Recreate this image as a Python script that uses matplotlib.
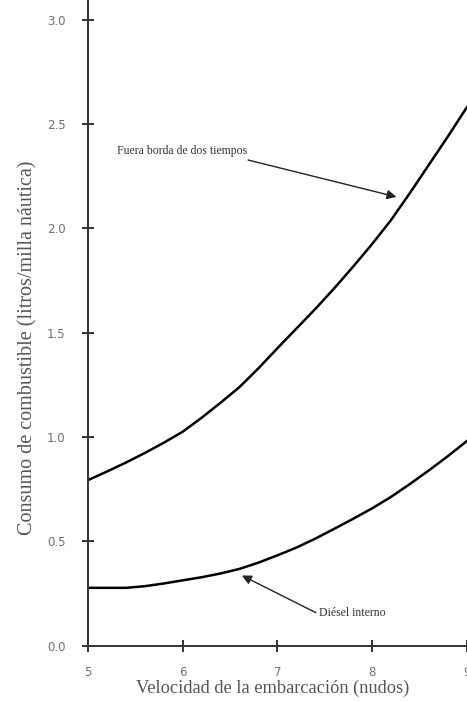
import numpy as np
import matplotlib.pyplot as plt

# boat speed (knots) and fuel use (litres per nautical mile)
speed = [5.0, 5.2, 5.4, 5.6, 5.8, 6.0, 6.2, 6.4, 6.6, 6.8, 7.0,
         7.2, 7.4, 7.6, 7.8, 8.0, 8.2, 8.4, 8.6, 8.8, 9.0]
outboard = [0.794, 0.835, 0.878, 0.924, 0.973, 1.026, 1.093, 1.165, 1.24, 1.33, 1.426,
            1.52, 1.614, 1.713, 1.817, 1.925, 2.04, 2.17, 2.305, 2.44, 2.58]
diesel = [0.277, 0.277, 0.277, 0.285, 0.298, 0.313, 0.328, 0.346, 0.368, 0.398, 0.433,
          0.47, 0.513, 0.56, 0.608, 0.658, 0.713, 0.775, 0.84, 0.908, 0.98]

xticks = [5, 6, 7, 8, 9]
yticks = [0.0, 0.5, 1.0, 1.5, 2.0, 2.5, 3.0]

serif = "Liberation Serif"
grey = "#555555"

fig = plt.figure(figsize=(4.67, 7.01), dpi=100)
ax = fig.add_axes([0.189, 0.079, 0.8104, 0.921])

ax.plot(speed, outboard, color="black", lw=1.8, solid_joinstyle="round")
ax.plot(speed, diesel, color="black", lw=1.8, solid_joinstyle="round")

ax.set_xlim(5, 9)
ax.set_ylim(0, 3.095)
ax.set_xticks(xticks)
ax.set_xticklabels([str(x) for x in xticks])
ax.set_yticks(yticks)
ax.set_yticklabels(["%.1f" % y for y in yticks])

for s in ["top", "right"]:
    ax.spines[s].set_visible(False)
for s in ["left", "bottom"]:
    ax.spines[s].set_color("#333333")
    ax.spines[s].set_linewidth(1.4)

ax.tick_params(axis="both", direction="inout", length=9, width=1.4, color="#333333",
               labelsize=8.5, labelcolor="#707070")
ax.tick_params(axis="y", pad=12)
ax.tick_params(axis="x", pad=10)

ax.set_xlabel("Velocidad de la embarcación (nudos)", family=serif, fontsize=13.2,
              color=grey, labelpad=2)
ax.xaxis.set_label_coords(0.487, -0.052)
ax.set_ylabel("Consumo de combustible (litros/milla náutica)", family=serif, fontsize=14.5,
              color=grey, labelpad=7)
ax.yaxis.set_label_coords(-0.135, 0.461)

ax.annotate("Fuera borda de dos tiempos", xy=(8.257, 2.151), xytext=(5.30, 2.37),
            family=serif, fontsize=8.5, color="#333333", va="center",
            arrowprops=dict(arrowstyle="-|>", color="#222222", lw=1.0,
                            mutation_scale=14, shrinkA=0, shrinkB=0,
                            relpos=(0.85, 0.2)))
ax.annotate("Diésel interno", xy=(6.624, 0.336), xytext=(7.435, 0.157),
            family=serif, fontsize=8.5, color="#333333", va="center",
            arrowprops=dict(arrowstyle="-|>", color="#222222", lw=1.0,
                            mutation_scale=14, shrinkA=0, shrinkB=0,
                            relpos=(0.0, 0.4)))

fig.savefig("out.png", dpi=100)
